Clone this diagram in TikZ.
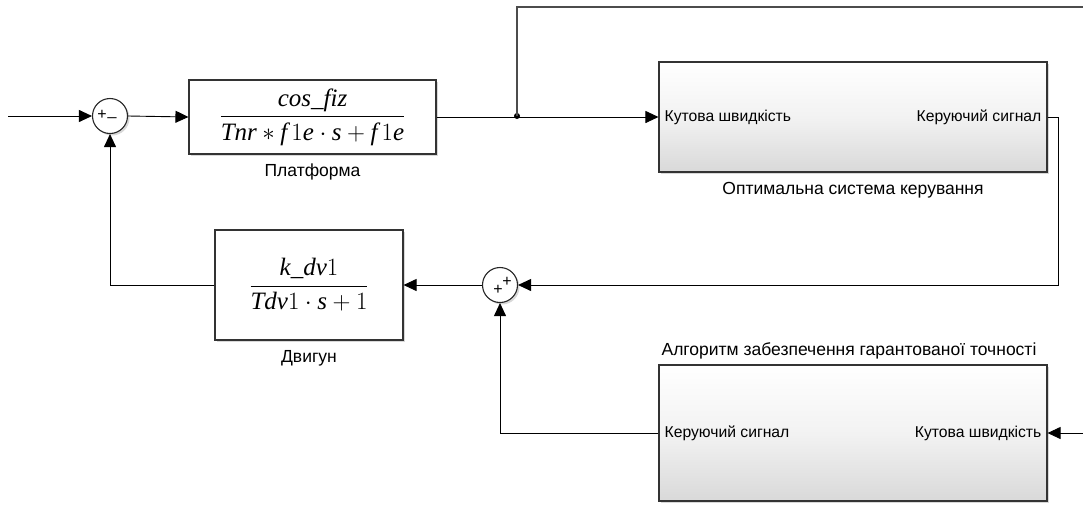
\documentclass[tikz,border=0pt]{standalone}
\usepackage{amsmath}
\usepackage{fontspec}
\setmainfont{Liberation Sans}
\newfontfamily\tnr{Liberation Serif}
\usetikzlibrary{arrows.meta,shadows,calc}
\begin{document}
\begin{tikzpicture}[x=1pt,y=-1pt,
  blk/.style={draw=black!80, line width=1.1pt, fill=white, inner sep=0pt,
    drop shadow={shadow xshift=2pt,shadow yshift=-2pt,opacity=0.3}},
  sblk/.style={blk, top color=white, bottom color=black!15, middle color=white!95!black},
  sumnode/.style={circle, draw=black!85, line width=1.1pt, fill=white, minimum size=35pt, inner sep=0pt,
    drop shadow={shadow xshift=2pt,shadow yshift=-2pt,opacity=0.3}},
  wire/.style={line width=0.9pt, black},
  arr/.style={wire, -{Triangle[length=13pt,width=12pt]}},
  lbl/.style={font=\fontsize{15.7}{18}\selectfont, inner sep=0pt},
  blbl/.style={font=\fontsize{17.5}{20}\selectfont, inner sep=0pt},
  frac/.style={font=\tnr\fontsize{25}{30}\selectfont, inner sep=0pt},
  sgn/.style={font=\fontsize{16}{16}\selectfont, inner sep=0pt}
]
\clip (0,0) rectangle (1083,504);
\fill[white] (0,0) rectangle (1083,504);

% blocks
\node[blk, minimum width=247pt, minimum height=74pt] (plat) at (312.5,117) {};
\node[frac] (platf) at (plat.center) {$\dfrac{\text{\itshape cos\_fiz}}{\text{\itshape Tnr} * \text{\itshape f}\,1\text{\itshape e}\cdot \text{\itshape s} + \text{\itshape f}\,1\text{\itshape e}}$};
\node[blbl] (platl) at (312.5,172) {Платформа};

\node[sblk, minimum width=388pt, minimum height=110pt] (osk) at (853,117) {};
\node[lbl, anchor=west] (oskin) at ($(osk.west)+(6,0)$) {Кутова швидкість};
\node[lbl, anchor=east] (oskout) at ($(osk.east)+(-6,0)$) {Керуючий сигнал};
\node[blbl] (oskl) at (853,190) {Оптимальна система керування};

\node[blk, minimum width=188pt, minimum height=110pt] (dv) at (309,285) {};
\node[frac] (dvf) at (dv.center) {$\dfrac{\text{\itshape k\_dv}1}{\text{\itshape Tdv}1\cdot \text{\itshape s} + 1}$};
\node[blbl] (dvl) at (309,358) {Двигун};

\node[sblk, minimum width=388pt, minimum height=136pt] (alg) at (853,433) {};
\node[lbl, anchor=west] (algout) at ($(alg.west)+(6,0)$) {Керуючий сигнал};
\node[lbl, anchor=east] (algin) at ($(alg.east)+(-6,0)$) {Кутова швидкість};
\node[blbl] (algl) at (849,351) {Алгоритм забезпечення гарантованої точності};

% sums
\node[sumnode] (s1) at (110,116) {};
\node[sgn] at ($(s1.center)+(-8,-1)$) {+};
\node[sgn] at ($(s1.center)+(2,1)$) {\_};
\node[sumnode] (s2) at (500,285) {};
\node[sgn] at ($(s2.center)+(7,-3)$) {+};
\node[sgn] at ($(s2.center)+(-2,5)$) {+};

% coordinates
\coordinate (in) at (8,116);
\coordinate (j) at (517,116);
\coordinate (topL) at (517,7);
\coordinate (topR) at (1083,7);
\coordinate (r1) at (1058,117);
\coordinate (r2) at (1058,285);
\coordinate (algsrc) at (1083,433);

% wires
\draw[arr] (in) -- (s1.west);
\draw[arr] (s1.east) -- (plat.west);
\draw[arr] (plat.east) -- (osk.west);
\fill (j) circle (3pt);
\draw[line width=1.4pt, black!70] (j) -- (topL) -- (topR);
\draw[arr] (osk.east) -- (r1) -- (r2) -- (s2.east);
\draw[arr] (s2.west) -- (dv.east);
\draw[arr] (dv.west) -| (s1.south);
\draw[arr] (alg.west) -| (s2.south);
\draw[arr] (algsrc) -- (alg.east);
\end{tikzpicture}
\end{document}
